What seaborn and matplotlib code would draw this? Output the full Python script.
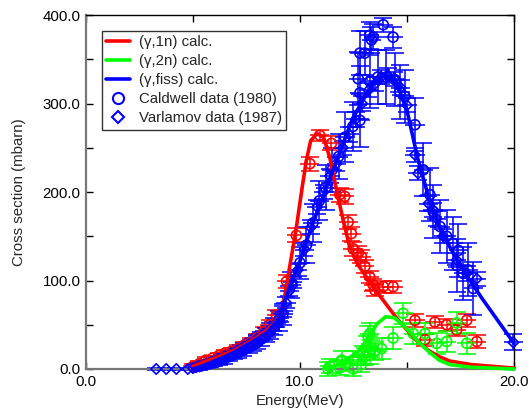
import matplotlib
matplotlib.use("Agg")
import matplotlib.pyplot as plt
from matplotlib.lines import Line2D
from matplotlib.ticker import FormatStrFormatter
import pandas as pd
import seaborn as sns

# ---- calculated cross sections (mbarn) ----
e_1n_calc = [5.0, 5.5, 6.0, 6.5, 7.0, 7.5, 8.0, 8.5, 9.0, 9.2, 9.5, 9.8, 10.1, 10.3, 10.5,
             10.8, 11.1, 11.4, 11.7, 12.0, 12.3, 12.7, 13.1, 13.5, 14.0, 14.5, 15.0, 15.5,
             16.0, 16.5, 17.0, 18.0, 19.0, 20.0]
s_1n_calc = [3, 8, 12, 17, 22, 29, 36, 45, 58, 70, 113, 155, 205, 236, 258,
             266, 262, 238, 203, 170, 140, 118, 104, 90, 74, 58, 44, 31,
             21, 14, 9, 5, 3, 1]

e_2n_calc = [11.2, 11.6, 12.0, 12.4, 12.8, 13.2, 13.6, 14.0, 14.4, 14.8, 15.2, 15.6,
             16.0, 16.5, 17.0, 18.0, 19.0, 20.0]
s_2n_calc = [0, 3, 8, 14, 22, 36, 51, 59, 58, 50, 40, 29, 20, 10, 5, 2, 1, 0]

e_fis_calc = [5.0, 5.5, 6.0, 6.5, 7.0, 7.5, 8.0, 8.5, 9.0, 9.5, 10.0, 10.5, 11.0, 11.5,
              12.0, 12.5, 13.0, 13.5, 14.0, 14.5, 15.0, 15.5, 16.0, 16.5, 17.0, 17.5,
              18.0, 18.5, 19.0, 19.5, 20.0]
s_fis_calc = [0, 4, 9, 14, 20, 27, 34, 42, 57, 92, 122, 158, 190, 222,
              254, 285, 306, 325, 333, 324, 292, 238, 195, 162, 138, 116,
              98, 80, 63, 46, 29]

# ---- Caldwell data (1980) ----
e_1n_cald = [5.0, 5.3, 5.6, 5.9, 6.2, 6.5, 6.8, 7.1, 7.4, 7.7, 8.0, 8.3, 8.6, 8.9,
             9.37, 9.83, 10.46, 10.92, 11.47, 11.86, 12.09, 12.25, 12.4, 12.48, 12.72,
             12.87, 13.03, 13.26, 13.42, 13.5, 13.89, 14.35, 15.37, 15.84, 16.3, 16.85,
             17.32, 17.79, 18.26]
s_1n_cald = [3, 6, 10, 12, 15, 18, 20, 23, 27, 30, 35, 42, 50, 61,
             99, 151, 232, 264, 255, 197, 195, 166, 153, 136, 131,
             127, 116, 104, 95, 89, 93, 93, 55, 33, 53, 50,
             44, 55, 31]
d_1n_cald = [3, 3, 3, 3, 3, 4, 4, 4, 4, 5, 5, 5, 5, 6,
             7, 8, 8, 6, 8, 8, 8, 8, 8, 8, 8,
             7, 7, 7, 7, 7, 7, 7, 7, 7, 7, 7,
             7, 7, 7]

e_2n_cald = [11.31, 11.39, 11.86, 11.94, 12.17, 12.48, 12.48, 12.87, 12.95, 13.03, 13.18,
             13.26, 13.26, 13.34, 13.5, 13.81, 14.35, 14.82, 15.29, 15.84, 16.38, 16.85,
             17.32, 17.79]
s_2n_cald = [0, 3, 1, 10, 6, 0, 10, 5, 16, 14, 37, 16, 40, 23, 20, 23, 35, 63, 40, 40,
             29, 31, 52, 29]
d_2n_cald = [8, 8, 8, 10, 8, 8, 10, 8, 10, 10, 12, 10, 12, 10, 10, 12, 12, 12, 12, 12,
             12, 12, 12, 12]

e_fis_cald = [5.3, 5.6, 5.8, 6.0, 6.2, 6.45, 6.7, 6.9, 7.1, 7.35, 7.6, 7.8, 8.0, 8.2,
              8.4, 8.6, 8.8, 9.0, 9.2, 9.6, 10.0, 10.3, 10.6,
              10.9, 11.2, 11.5, 11.8, 12.1, 12.47, 12.8, 12.8, 12.72, 12.8, 13.03, 13.26,
              13.34, 13.42, 13.89, 14.35, 13.26, 13.64, 14.04, 14.43, 14.67, 14.9, 15.37,
              15.76, 16.07, 16.22, 16.54, 16.85, 17.15, 17.32, 17.4, 17.63, 17.85, 18.1]
s_fis_cald = [3, 5, 6, 7, 9, 11, 14, 16, 18, 21, 24, 27, 30, 34,
              38, 43, 48, 54, 62, 95, 120, 140, 165,
              190, 205, 225, 240, 262, 274, 281, 312, 328, 357, 357, 377,
              372, 375, 389, 375, 325, 330, 330, 327, 313, 308, 276,
              225, 197, 178, 161, 150, 142, 117, 134, 108, 112, 91]
d_fis_cald = [4, 4, 4, 4, 5, 5, 5, 5, 6, 6, 6, 7, 7, 8,
              8, 9, 10, 11, 12, 15, 18, 20, 22,
              22, 25, 25, 25, 28, 28, 30, 30, 30, 25, 25, 15,
              15, 15, 8, 12, 30, 30, 30, 30, 30, 30, 30,
              30, 30, 30, 30, 30, 30, 30, 30, 30, 30, 30]

# ---- Varlamov data (1987) ----
e_fis_varl = [3.28, 3.75, 4.22, 4.76, 5.0, 5.15, 5.3, 5.45, 5.6, 5.75, 5.9, 6.05, 6.2,
              6.35, 6.5, 6.65, 6.8, 6.95, 7.1, 7.25, 7.4, 7.55, 7.7, 7.85, 8.0, 8.15,
              8.3, 8.45, 8.6, 8.75, 8.9, 9.05, 9.2, 9.35, 9.5, 9.65, 9.9, 10.2, 10.5,
              10.8, 11.1, 11.4, 11.7, 12.0, 12.3, 12.6, 12.9, 13.2, 13.5, 13.8, 14.1,
              14.4, 14.7, 15.0, 15.37, 15.52, 16.0, 16.22, 16.38, 16.69, 17.32, 17.79,
              18.26, 19.97]
s_fis_varl = [0, 0, 0, 0, 1, 2, 3, 4, 5, 6, 8, 9, 11,
              12, 14, 15, 17, 19, 21, 23, 25, 27, 29, 31, 34, 36,
              38, 41, 44, 48, 52, 58, 65, 75, 88, 98, 112, 135, 160,
              183, 200, 218, 232, 250, 265, 282, 300, 315, 322, 330, 332,
              328, 318, 298, 242, 221, 187, 180, 170, 150, 123, 108,
              102, 30]
d_fis_varl = [1, 1, 1, 1, 1, 2, 2, 2, 2, 2, 2, 3, 3,
              3, 3, 3, 3, 3, 4, 4, 4, 4, 4, 4, 4, 4,
              5, 5, 5, 5, 5, 5, 6, 6, 6, 6, 7, 7, 8,
              8, 8, 8, 8, 8, 8, 8, 8, 8, 8, 8, 8,
              8, 8, 8, 8, 8, 8, 8, 8, 8, 8, 8,
              8, 9]

ENERGY_HALF_WIDTH = 0.45

RED, GREEN, BLUE = "#ff0000", "#00ff00", "#0000ff"

sns.set_style("ticks")
plt.rcParams["font.family"] = ["Liberation Sans", "DejaVu Sans"]
plt.rcParams["font.size"] = 10.8

fig = plt.figure(figsize=(5.30, 4.12), dpi=100)
ax = fig.add_axes([86 / 530, 43 / 412, 428 / 530, 354 / 412])


def draw_data(e, s, ds, color, marker, size):
    ax.errorbar(e, s, xerr=ENERGY_HALF_WIDTH, fmt="none", ecolor=color,
                elinewidth=1.1, capsize=0, zorder=2, clip_on=False)
    ax.errorbar(e, s, yerr=ds, fmt="none", ecolor=color, elinewidth=1.1,
                capsize=6.5, capthick=1.1, zorder=2, clip_on=False)
    sns.scatterplot(x=e, y=s, ax=ax, marker=marker, s=size, facecolor="none",
                    edgecolor=color, linewidth=1.2, zorder=3, clip_on=False)


draw_data(e_1n_cald, s_1n_cald, d_1n_cald, RED, "o", 52)
draw_data(e_2n_cald, s_2n_cald, d_2n_cald, GREEN, "o", 52)
draw_data(e_fis_cald, s_fis_cald, d_fis_cald, BLUE, "o", 52)
draw_data(e_fis_varl, s_fis_varl, d_fis_varl, BLUE, "D", 28)

calc = pd.concat([
    pd.DataFrame({"E": e_1n_calc, "sigma": s_1n_calc, "channel": "1n"}),
    pd.DataFrame({"E": e_2n_calc, "sigma": s_2n_calc, "channel": "2n"}),
    pd.DataFrame({"E": e_fis_calc, "sigma": s_fis_calc, "channel": "fiss"}),
])
sns.lineplot(data=calc, x="E", y="sigma", hue="channel", sort=False,
             palette={"1n": RED, "2n": GREEN, "fiss": BLUE}, linewidth=2.6,
             legend=False, ax=ax, zorder=4, clip_on=False)

ax.set_xlim(0, 20)
ax.set_ylim(0, 400)
ax.set_xticks([0, 10, 20])
ax.set_xticks([5, 15], minor=True)
ax.set_yticks([0, 100, 200, 300, 400])
ax.set_yticks([50, 150, 250, 350], minor=True)
ax.xaxis.set_major_formatter(FormatStrFormatter("%.1f"))
ax.yaxis.set_major_formatter(FormatStrFormatter("%.1f"))
ax.tick_params(which="both", direction="in", top=True, right=True, length=5,
               width=1, labelsize=10.8, colors="black", pad=4)
for side in ("left", "bottom"):
    ax.spines[side].set_color("#777777")
    ax.spines[side].set_linewidth(1.6)
for side in ("top", "right"):
    ax.spines[side].set_color("black")
    ax.spines[side].set_linewidth(1.0)

ax.set_xlabel("Energy(MeV)", fontsize=10.8, labelpad=4)
ax.set_ylabel("Cross section (mbarn)", fontsize=10.8, labelpad=12)

handles = [
    Line2D([], [], color=RED, lw=2.6),
    Line2D([], [], color=GREEN, lw=2.6),
    Line2D([], [], color=BLUE, lw=2.6),
    Line2D([], [], color=BLUE, marker="o", ls="none", mfc="none", mew=1.5, ms=8),
    Line2D([], [], color=BLUE, marker="D", ls="none", mfc="none", mew=1.5, ms=6),
]
labels = ["(\u03b3,1n) calc.", "(\u03b3,2n) calc.", "(\u03b3,fiss) calc.",
          "Caldwell data (1980)", "Varlamov data (1987)"]
leg = ax.legend(handles, labels, loc="upper left", bbox_to_anchor=(0.037, 0.955),
                borderaxespad=0, fontsize=10.8, frameon=True, fancybox=False,
                edgecolor="black", handlelength=1.6, handletextpad=0.55,
                labelspacing=0.33, borderpad=0.3)
leg.get_frame().set_linewidth(1.0)

fig.savefig("out.png", dpi=100)
